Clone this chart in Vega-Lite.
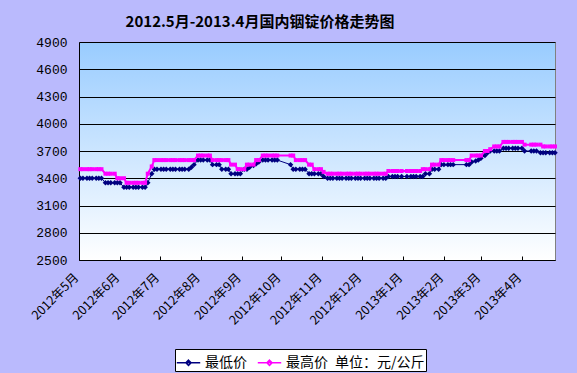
{
  "$schema": "https://vega.github.io/schema/vega-lite/v6.json",
  "autosize": "none",
  "width": 476,
  "height": 218,
  "padding": {"left": 79, "top": 42, "right": 22, "bottom": 113},
  "background": "#babafd",
  "config": {
    "view": {"stroke": "#808080", "strokeWidth": 1, "fill": {"gradient": "linear", "x1": 0, "y1": 0, "x2": 0, "y2": 1, "stops": [{"offset": 0, "color": "#99ccff"}, {"offset": 1, "color": "#ffffff"}]}}
  },
  "title": {
    "text": "2012.5月-2013.4月国内铟锭价格走势图",
    "font": "Noto Sans CJK SC",
    "fontSize": 15,
    "fontWeight": "bold",
    "color": "#000000",
    "anchor": "middle",
    "dx": -57,
    "offset": 6
  },
  "data": {
    "values": [
      {"d": "2012-05-02", "lo": 3400, "hi": 3500},
      {"d": "2012-05-04", "lo": 3400, "hi": 3500},
      {"d": "2012-05-07", "lo": 3400, "hi": 3500},
      {"d": "2012-05-09", "lo": 3400, "hi": 3500},
      {"d": "2012-05-11", "lo": 3400, "hi": 3500},
      {"d": "2012-05-14", "lo": 3400, "hi": 3500},
      {"d": "2012-05-16", "lo": 3400, "hi": 3500},
      {"d": "2012-05-18", "lo": 3400, "hi": 3500},
      {"d": "2012-05-21", "lo": 3350, "hi": 3450},
      {"d": "2012-05-23", "lo": 3350, "hi": 3450},
      {"d": "2012-05-25", "lo": 3350, "hi": 3450},
      {"d": "2012-05-28", "lo": 3350, "hi": 3450},
      {"d": "2012-05-30", "lo": 3350, "hi": 3400},
      {"d": "2012-06-01", "lo": 3350, "hi": 3400},
      {"d": "2012-06-04", "lo": 3300, "hi": 3400},
      {"d": "2012-06-06", "lo": 3300, "hi": 3350},
      {"d": "2012-06-08", "lo": 3300, "hi": 3350},
      {"d": "2012-06-11", "lo": 3300, "hi": 3350},
      {"d": "2012-06-13", "lo": 3300, "hi": 3350},
      {"d": "2012-06-15", "lo": 3300, "hi": 3350},
      {"d": "2012-06-18", "lo": 3300, "hi": 3350},
      {"d": "2012-06-20", "lo": 3300, "hi": 3350},
      {"d": "2012-06-22", "lo": 3350, "hi": 3450},
      {"d": "2012-06-25", "lo": 3450, "hi": 3530},
      {"d": "2012-06-27", "lo": 3500, "hi": 3600},
      {"d": "2012-06-29", "lo": 3500, "hi": 3600},
      {"d": "2012-07-02", "lo": 3500, "hi": 3600},
      {"d": "2012-07-04", "lo": 3500, "hi": 3600},
      {"d": "2012-07-06", "lo": 3500, "hi": 3600},
      {"d": "2012-07-09", "lo": 3500, "hi": 3600},
      {"d": "2012-07-11", "lo": 3500, "hi": 3600},
      {"d": "2012-07-13", "lo": 3500, "hi": 3600},
      {"d": "2012-07-16", "lo": 3500, "hi": 3600},
      {"d": "2012-07-18", "lo": 3500, "hi": 3600},
      {"d": "2012-07-20", "lo": 3500, "hi": 3600},
      {"d": "2012-07-23", "lo": 3500, "hi": 3600},
      {"d": "2012-07-25", "lo": 3520, "hi": 3600},
      {"d": "2012-07-27", "lo": 3550, "hi": 3600},
      {"d": "2012-07-30", "lo": 3600, "hi": 3650},
      {"d": "2012-08-01", "lo": 3600, "hi": 3650},
      {"d": "2012-08-03", "lo": 3600, "hi": 3650},
      {"d": "2012-08-06", "lo": 3600, "hi": 3650},
      {"d": "2012-08-08", "lo": 3600, "hi": 3650},
      {"d": "2012-08-10", "lo": 3550, "hi": 3600},
      {"d": "2012-08-13", "lo": 3550, "hi": 3600},
      {"d": "2012-08-15", "lo": 3550, "hi": 3600},
      {"d": "2012-08-17", "lo": 3500, "hi": 3600},
      {"d": "2012-08-20", "lo": 3500, "hi": 3600},
      {"d": "2012-08-22", "lo": 3500, "hi": 3600},
      {"d": "2012-08-24", "lo": 3450, "hi": 3550},
      {"d": "2012-08-27", "lo": 3450, "hi": 3550},
      {"d": "2012-08-29", "lo": 3450, "hi": 3500},
      {"d": "2012-08-31", "lo": 3450, "hi": 3500},
      {"d": "2012-09-03", "lo": 3500, "hi": 3500},
      {"d": "2012-09-05", "lo": 3500, "hi": 3550},
      {"d": "2012-09-07", "lo": 3520, "hi": 3550},
      {"d": "2012-09-10", "lo": 3540, "hi": 3550},
      {"d": "2012-09-12", "lo": 3560, "hi": 3600},
      {"d": "2012-09-14", "lo": 3580, "hi": 3600},
      {"d": "2012-09-17", "lo": 3600, "hi": 3650},
      {"d": "2012-09-19", "lo": 3600, "hi": 3650},
      {"d": "2012-09-21", "lo": 3600, "hi": 3650},
      {"d": "2012-09-24", "lo": 3600, "hi": 3650},
      {"d": "2012-09-26", "lo": 3600, "hi": 3650},
      {"d": "2012-09-28", "lo": 3600, "hi": 3650},
      {"d": "2012-10-08", "lo": 3550, "hi": 3650},
      {"d": "2012-10-10", "lo": 3500, "hi": 3650},
      {"d": "2012-10-12", "lo": 3500, "hi": 3600},
      {"d": "2012-10-15", "lo": 3500, "hi": 3600},
      {"d": "2012-10-17", "lo": 3500, "hi": 3600},
      {"d": "2012-10-19", "lo": 3500, "hi": 3600},
      {"d": "2012-10-22", "lo": 3450, "hi": 3550},
      {"d": "2012-10-24", "lo": 3450, "hi": 3550},
      {"d": "2012-10-26", "lo": 3450, "hi": 3500},
      {"d": "2012-10-29", "lo": 3450, "hi": 3500},
      {"d": "2012-10-31", "lo": 3450, "hi": 3500},
      {"d": "2012-11-02", "lo": 3420, "hi": 3470},
      {"d": "2012-11-05", "lo": 3400, "hi": 3450},
      {"d": "2012-11-07", "lo": 3400, "hi": 3450},
      {"d": "2012-11-09", "lo": 3400, "hi": 3450},
      {"d": "2012-11-12", "lo": 3400, "hi": 3450},
      {"d": "2012-11-14", "lo": 3400, "hi": 3450},
      {"d": "2012-11-16", "lo": 3400, "hi": 3450},
      {"d": "2012-11-19", "lo": 3400, "hi": 3450},
      {"d": "2012-11-21", "lo": 3400, "hi": 3450},
      {"d": "2012-11-23", "lo": 3400, "hi": 3450},
      {"d": "2012-11-26", "lo": 3400, "hi": 3450},
      {"d": "2012-11-28", "lo": 3400, "hi": 3450},
      {"d": "2012-11-30", "lo": 3400, "hi": 3450},
      {"d": "2012-12-03", "lo": 3400, "hi": 3450},
      {"d": "2012-12-05", "lo": 3400, "hi": 3450},
      {"d": "2012-12-07", "lo": 3400, "hi": 3450},
      {"d": "2012-12-10", "lo": 3400, "hi": 3450},
      {"d": "2012-12-12", "lo": 3400, "hi": 3450},
      {"d": "2012-12-14", "lo": 3400, "hi": 3450},
      {"d": "2012-12-17", "lo": 3400, "hi": 3450},
      {"d": "2012-12-19", "lo": 3400, "hi": 3450},
      {"d": "2012-12-21", "lo": 3420, "hi": 3480},
      {"d": "2012-12-24", "lo": 3420, "hi": 3480},
      {"d": "2012-12-26", "lo": 3420, "hi": 3480},
      {"d": "2012-12-28", "lo": 3420, "hi": 3480},
      {"d": "2012-12-31", "lo": 3420, "hi": 3480},
      {"d": "2013-01-04", "lo": 3420, "hi": 3480},
      {"d": "2013-01-07", "lo": 3420, "hi": 3480},
      {"d": "2013-01-09", "lo": 3420, "hi": 3480},
      {"d": "2013-01-11", "lo": 3420, "hi": 3480},
      {"d": "2013-01-14", "lo": 3420, "hi": 3480},
      {"d": "2013-01-16", "lo": 3420, "hi": 3500},
      {"d": "2013-01-18", "lo": 3450, "hi": 3500},
      {"d": "2013-01-21", "lo": 3450, "hi": 3500},
      {"d": "2013-01-23", "lo": 3500, "hi": 3550},
      {"d": "2013-01-25", "lo": 3500, "hi": 3550},
      {"d": "2013-01-28", "lo": 3500, "hi": 3550},
      {"d": "2013-01-30", "lo": 3550, "hi": 3600},
      {"d": "2013-02-01", "lo": 3550, "hi": 3600},
      {"d": "2013-02-04", "lo": 3550, "hi": 3600},
      {"d": "2013-02-06", "lo": 3550, "hi": 3600},
      {"d": "2013-02-08", "lo": 3550, "hi": 3600},
      {"d": "2013-02-18", "lo": 3550, "hi": 3600},
      {"d": "2013-02-20", "lo": 3550, "hi": 3600},
      {"d": "2013-02-22", "lo": 3580, "hi": 3650},
      {"d": "2013-02-25", "lo": 3590, "hi": 3650},
      {"d": "2013-02-27", "lo": 3600, "hi": 3650},
      {"d": "2013-03-01", "lo": 3620, "hi": 3650},
      {"d": "2013-03-04", "lo": 3650, "hi": 3700},
      {"d": "2013-03-06", "lo": 3680, "hi": 3700},
      {"d": "2013-03-08", "lo": 3700, "hi": 3720},
      {"d": "2013-03-11", "lo": 3700, "hi": 3750},
      {"d": "2013-03-13", "lo": 3700, "hi": 3750},
      {"d": "2013-03-15", "lo": 3700, "hi": 3750},
      {"d": "2013-03-18", "lo": 3730, "hi": 3800},
      {"d": "2013-03-20", "lo": 3730, "hi": 3800},
      {"d": "2013-03-22", "lo": 3730, "hi": 3800},
      {"d": "2013-03-25", "lo": 3730, "hi": 3800},
      {"d": "2013-03-27", "lo": 3730, "hi": 3800},
      {"d": "2013-03-29", "lo": 3730, "hi": 3800},
      {"d": "2013-04-01", "lo": 3730, "hi": 3800},
      {"d": "2013-04-03", "lo": 3700, "hi": 3770},
      {"d": "2013-04-08", "lo": 3700, "hi": 3770},
      {"d": "2013-04-10", "lo": 3700, "hi": 3770},
      {"d": "2013-04-12", "lo": 3700, "hi": 3770},
      {"d": "2013-04-15", "lo": 3680, "hi": 3770},
      {"d": "2013-04-17", "lo": 3680, "hi": 3750},
      {"d": "2013-04-19", "lo": 3680, "hi": 3750},
      {"d": "2013-04-22", "lo": 3680, "hi": 3750},
      {"d": "2013-04-24", "lo": 3680, "hi": 3750},
      {"d": "2013-04-26", "lo": 3680, "hi": 3750}
    ]
  },
  "transform": [{"fold": ["lo", "hi"], "as": ["s", "v"]}],
  "encoding": {
    "x": {
      "field": "d",
      "type": "temporal",
      "scale": {"type": "utc", "domain": [{"year": 2012, "month": 5, "date": 1, "utc": true}, {"year": 2013, "month": 4, "date": 26, "utc": true}]},
      "axis": {
        "title": null,
        "grid": false,
        "format": "%Y年%-m月",
        "tickCount": {"interval": "month", "step": 1},
        "labelAngle": -45,
        "labelAlign": "right",
        "labelBaseline": "middle",
        "labelFont": "Noto Sans CJK SC",
        "labelFontSize": 12.5,
        "labelColor": "#000000",
        "labelPadding": 19,
        "labelOffset": -3,
        "labelOverlap": false,
        "labelFlush": false,
        "domainColor": "#000000",
        "domainWidth": 1,
        "tickColor": "#000000",
        "tickSize": -4
      }
    },
    "y": {
      "field": "v",
      "type": "quantitative",
      "scale": {"domain": [2500, 4900], "nice": false, "zero": false},
      "axis": {
        "title": null,
        "values": [2500, 2800, 3100, 3400, 3700, 4000, 4300, 4600, 4900],
        "format": "d",
        "grid": true,
        "gridColor": "#000000",
        "gridOpacity": 1,
        "gridWidth": 1,
        "domainColor": "#000000",
        "tickSize": 0,
        "labelPadding": 12,
        "labelFont": "Liberation Mono",
        "labelFontSize": 13,
        "labelColor": "#000000"
      }
    }
  },
  "layer": [
    {
      "mark": {"type": "line", "strokeWidth": 1},
      "transform": [{"filter": "datum.s == 'lo'"}],
      "encoding": {
        "color": {
          "field": "s",
          "type": "nominal",
          "scale": {"domain": ["lo", "hi"], "range": ["#000080", "#ff00ff"]},
          "legend": {
            "title": null,
            "orient": "none",
            "legendX": 96,
            "legendY": 307,
            "direction": "horizontal",
            "fillColor": "#ffffff",
            "strokeColor": "#000000",
            "padding": 1,
            "labelFont": "Noto Sans CJK SC",
            "labelFontSize": 14,
            "labelColor": "#000000",
            "labelExpr": "datum.value == 'lo' ? '最低价' : '最高价\u2002单位：元/公斤'",
            "symbolType": "M-1,0H1M0,-0.22L0.22,0L0,0.22L-0.22,0Z",
            "symbolSize": 550,
            "symbolStrokeWidth": 1.5,
            "columnPadding": 7,
            "labelOffset": 4
          }
        }
      }
    },
    {
      "mark": {"type": "point", "shape": "diamond", "filled": true, "size": 30, "color": "#000080", "opacity": 1},
      "transform": [{"filter": "datum.s == 'lo'"}]
    },
    {
      "mark": {"type": "line", "strokeWidth": 2},
      "transform": [{"filter": "datum.s == 'hi'"}],
      "encoding": {"color": {"field": "s", "type": "nominal"}}
    },
    {
      "mark": {"type": "point", "shape": "square", "filled": true, "size": 16, "color": "#ff00ff", "opacity": 1},
      "transform": [{"filter": "datum.s == 'hi'"}]
    }
  ]
}
